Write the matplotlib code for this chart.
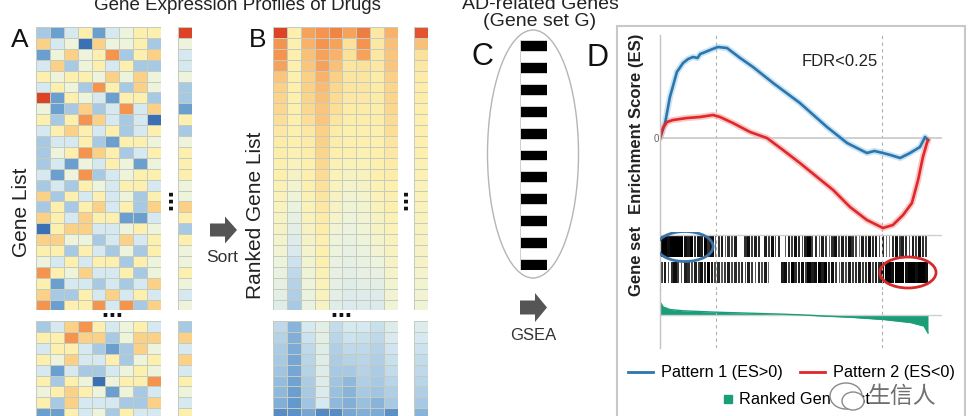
import numpy as np
import matplotlib
matplotlib.use('Agg')
import matplotlib.pyplot as plt
from matplotlib.colors import LinearSegmentedColormap, ListedColormap
from matplotlib.patches import Ellipse, FancyArrow
from matplotlib.lines import Line2D

plt.rcParams['font.family'] = ['Liberation Sans', 'DejaVu Sans']

# ---------------- data ----------------
heat_colors = ['#3b70b5', '#6a9fd0', '#a7c9e4', '#d6e8f0', '#eef4dc',
               '#fdf1b0', '#fbd288', '#f5964f', '#dd4427']

# Panel A: raw expression levels (0 = strongly down ... 8 = strongly up)
A_top = ["213513455", "634064452", "146457256", "362453522", "545546464",
         "354275264", "815431552", "412623736", "525763230", "356535235",
         "233521554", "245765235", "231435414", "314723455", "232543553",
         "625353425", "252563526", "653655113", "056633454", "664423635",
         "552532425", "435355254", "754633524", "513323236", "622536353",
         "715573726"]
A_top_side = "84334221524555446525445434"
A_bottom = ["236753453", "557662466", "355321264", "546335245", "313223454",
            "525404557", "456541423", "526333226", "115342533"]
A_bottom_side = "263635435"

# Panel B: ranked expression levels
B_top = [
    [8.0, 5.0, 6.8, 7.0, 7.2, 6.8, 7.3, 5.3, 6.5],
    [7.0, 5.0, 6.5, 7.0, 6.8, 5.5, 7.0, 5.3, 6.3],
    [7.0, 5.0, 6.3, 6.8, 6.5, 5.5, 6.8, 5.3, 6.2],
    [6.8, 5.0, 6.2, 6.8, 6.3, 5.4, 5.5, 5.3, 6.2],
    [6.2, 5.0, 6.0, 6.5, 6.0, 5.4, 5.4, 5.2, 6.0],
    [6.0, 5.0, 6.0, 6.4, 5.8, 5.4, 5.4, 5.2, 5.9],
    [5.9, 5.0, 5.9, 6.3, 5.7, 5.3, 5.3, 5.2, 5.9],
    [5.8, 5.0, 5.8, 6.2, 5.6, 5.2, 5.2, 5.1, 5.8],
    [5.6, 5.0, 5.6, 6.2, 5.4, 5.1, 5.1, 5.1, 5.7],
    [5.3, 5.0, 5.3, 6.0, 5.2, 5.0, 5.0, 5.0, 5.6],
    [5.2, 5.0, 5.2, 6.0, 5.1, 5.0, 5.0, 5.0, 5.4],
    [5.1, 4.9, 5.1, 5.9, 5.0, 5.0, 4.9, 5.0, 5.3],
    [5.0, 4.7, 5.0, 5.8, 4.9, 4.8, 4.8, 5.0, 5.2],
    [5.0, 4.5, 5.0, 5.7, 4.8, 4.6, 4.7, 5.0, 5.1],
    [4.9, 4.3, 5.0, 5.5, 4.7, 4.4, 4.5, 4.9, 5.0],
    [4.8, 4.1, 4.9, 5.4, 4.6, 4.2, 4.4, 4.8, 5.0],
    [4.7, 3.9, 4.8, 5.3, 4.5, 4.1, 4.3, 4.7, 5.0],
    [4.6, 3.7, 4.7, 5.2, 4.4, 4.0, 4.2, 4.6, 4.9],
    [4.5, 3.5, 4.6, 5.1, 4.2, 3.9, 4.1, 4.5, 4.8],
    [4.4, 3.3, 4.5, 5.0, 4.0, 3.8, 4.0, 4.4, 4.7],
    [4.2, 3.1, 4.4, 5.0, 3.9, 3.7, 3.9, 4.2, 4.6],
    [4.0, 2.8, 4.3, 5.0, 3.8, 3.6, 3.8, 4.0, 4.5],
    [3.8, 2.5, 4.1, 4.9, 3.7, 3.5, 3.7, 3.7, 4.4],
    [3.6, 2.3, 4.0, 4.8, 3.6, 3.4, 3.5, 3.5, 4.3],
    [3.5, 2.2, 3.9, 4.7, 3.5, 3.3, 3.3, 3.3, 4.2],
    [3.4, 2.0, 3.8, 4.6, 3.4, 3.2, 3.2, 3.2, 4.1],
]
B_top_side = [7.8, 6.3, 5.5, 5.3, 5.2, 5.1, 5.1, 5.0, 5.0, 5.0, 5.0, 5.0, 4.9,
              4.9, 4.8, 4.8, 4.7, 4.7, 4.6, 4.6, 4.5, 4.5, 4.4, 4.3, 4.2, 4.1]
B_bottom = [
    [2.5, 1.5, 3.0, 3.5, 2.6, 3.0, 3.0, 2.7, 3.3],
    [2.3, 1.4, 2.8, 3.5, 2.4, 2.8, 2.7, 2.5, 3.1],
    [2.1, 1.3, 2.5, 3.4, 2.2, 2.5, 2.5, 2.3, 2.9],
    [2.0, 1.2, 2.4, 3.4, 2.1, 2.3, 2.4, 2.2, 2.7],
    [1.9, 1.2, 2.3, 3.3, 2.0, 2.0, 2.3, 2.1, 2.6],
    [1.7, 1.1, 2.1, 3.3, 1.9, 1.6, 2.2, 2.0, 2.4],
    [1.6, 1.0, 2.0, 3.2, 1.8, 1.5, 2.0, 1.9, 2.2],
    [1.4, 0.9, 1.9, 3.0, 1.6, 1.4, 1.8, 1.5, 2.0],
    [0.6, 0.7, 1.2, 0.5, 0.6, 1.2, 1.4, 1.3, 0.7],
]
B_bottom_side = [3.3, 3.0, 2.8, 2.6, 2.5, 2.4, 2.2, 2.0, 1.5]

# Panel C: gene set G membership
gene_set_G = [1, 0, 1, 0, 1, 0, 1, 0, 1, 0, 1, 0, 1, 0, 1, 0, 1, 0, 1, 0, 1]

# Panel D: running enrichment scores (rank position in % of list)
blue_x = [0, 1.9, 3.7, 6.3, 8.6, 10.5, 12.3, 14.0, 15.0, 16.0, 18.7, 21.6, 25.0,
          29.9, 34.7, 42.2, 52.2, 62.3, 69.8, 77.2, 80.0, 83.2, 86.0, 89.6,
          93.3, 97.0, 98.9, 100]
blue_es = [0, 0.15, 0.41, 0.66, 0.75, 0.79, 0.81, 0.80, 0.84, 0.85, 0.88, 0.91,
           0.90, 0.80, 0.71, 0.55, 0.35, 0.11, -0.05, -0.15, -0.13, -0.15,
           -0.17, -0.20, -0.15, -0.09, 0.01, -0.02]
red_x = [0, 1.1, 2.6, 4.9, 10.1, 14.9, 19.8, 22.4, 27.2, 33.6, 39.9, 45.9, 52.2,
         58.6, 64.6, 70.9, 77.2, 83.2, 86.9, 90.7, 94.0, 96.3, 98.1, 99.6, 100]
red_es = [0, 0.10, 0.16, 0.18, 0.20, 0.21, 0.23, 0.21, 0.15, 0.06, 0.0, -0.12,
          -0.25, -0.39, -0.52, -0.69, -0.82, -0.90, -0.87, -0.77, -0.65, -0.42,
          -0.19, -0.05, -0.02]

# Gene-set hit density along the ranked list (0 = none ... 9 = dense)
hits_pattern1 = ("99899998" "79687968" "2" "573647" "1" "0" "68576" "1" "75846"
                 "0" "3" "758647956375" "2" "68475864" "1" "7586746" "21"
                 "68576475865")
hits_pattern2 = ("5746853764" "758697" "4635746" "5" "647536" "4721" "0" "2"
                 "7859678597" "8979685" "364756" "7568476" "89989998998998")

# Ranked gene list metric
rank_x = [0, 1.2, 3.7, 8.7, 21, 33.6, 46, 52, 56, 60, 71, 83.5, 93.5, 98.5, 100]
rank_val = [13, 8, 5.5, 4.2, 2.8, 1.8, 0.8, 0.2, -0.3, -0.9, -2.2, -4.5, -7.5,
            -11, -18]

leading_edges = [21, 83]

BLUE = '#2b76ad'
RED = '#e0282a'
GREEN = '#1a9e78'

# ---------------- figure ----------------
W, H = 970, 416
fig = plt.figure(figsize=(W / 100, H / 100), dpi=100)
fig.patch.set_facecolor('white')


def rect(x0, y0, x1, y1):
    return [x0 / W, 1 - y1 / H, (x1 - x0) / W, (y1 - y0) / H]


ov = fig.add_axes([0, 0, 1, 1])
ov.set_xlim(0, W)
ov.set_ylim(H, 0)
ov.axis('off')

cmap = LinearSegmentedColormap.from_list('expr', heat_colors)


def to_mat(rows):
    if isinstance(rows, str):
        return np.array([[int(c)] for c in rows], dtype=float)
    if isinstance(rows[0], str):
        return np.array([[int(c) for c in r] for r in rows], dtype=float)
    arr = np.array(rows, dtype=float)
    if arr.ndim == 1:
        arr = arr[:, None]
    return arr


def heat(r, rows):
    m = to_mat(rows)
    ax = fig.add_axes(r)
    ax.pcolormesh(m, cmap=cmap, vmin=0, vmax=8, edgecolors='#c5ccbf',
                  linewidth=0.6)
    ax.set_xlim(0, m.shape[1])
    ax.set_ylim(m.shape[0], 0)
    ax.axis('off')
    return ax


RH = 10.9
top0, top1 = 27, 27 + 26 * RH
bot0, bot1 = 321, 321 + 9 * RH

heat(rect(36, top0, 161, top1), A_top)
heat(rect(178, top0, 192, top1), A_top_side)
heat(rect(36, bot0, 161, bot1), A_bottom)
heat(rect(178, bot0, 192, bot1), A_bottom_side)
heat(rect(273, top0, 398, top1), B_top)
heat(rect(414, top0, 428, top1), B_top_side)
heat(rect(273, bot0, 398, bot1), B_bottom)
heat(rect(414, bot0, 428, bot1), B_bottom_side)

# Panel C gene set column
axc = fig.add_axes(rect(520, 40, 547, 40 + 21 * 10.95))
gs = np.array(gene_set_G, dtype=float)[:, None]
axc.pcolormesh(gs, cmap=ListedColormap(['white', 'black']), vmin=0, vmax=1,
               edgecolors='#d0d0d0', linewidth=0.5)
axc.set_xlim(0, 1)
axc.set_ylim(len(gene_set_G), 0)
axc.axis('off')

# ---------------- overlay texts / decorations ----------------
ov.text(237, 10, 'Gene Expression Profiles of Drugs', ha='center',
        va='baseline', fontsize=13.5, color='#222')
ov.text(540, 9, 'AD-related Genes', ha='center', va='baseline',
        fontsize=14, color='#222')
ov.text(540, 22, '(Gene set G)', ha='center', va='center', fontsize=14,
        color='#222')

ov.text(11, 47, 'A', fontsize=19, va='baseline', color='#111')
ov.text(249, 47, 'B', fontsize=19, va='baseline', color='#111')
ov.text(472, 65, 'C', fontsize=22, va='baseline', color='#111')
ov.text(587, 66, 'D', fontsize=22, va='baseline', color='#111')

ov.text(22, 212, 'Gene List', rotation=90, ha='center', va='center',
        fontsize=15, color='#222')
ov.text(256, 215, 'Ranked Gene List', rotation=90, ha='center', va='center',
        fontsize=15, color='#222')

for (x, y, rot) in [(170, 200, 90), (112, 315, 0), (405, 200, 90),
                    (341, 315, 0)]:
    ov.text(x, y, '\u22ef', rotation=rot, ha='center', va='center',
            fontsize=15, fontweight='bold', family='DejaVu Sans', color='#111')

ov.add_patch(FancyArrow(210, 230, 27, 0, width=13, head_width=27,
                        head_length=12, length_includes_head=True,
                        color='#555555', lw=0))
ov.text(222, 257, 'Sort', ha='center', va='center', fontsize=12.5,
        color='#333')

ov.add_patch(Ellipse((533, 154), 91, 248, fill=False, edgecolor='#b5b5b5',
                     lw=1))
ov.add_patch(FancyArrow(520, 307.5, 27, 0, width=14, head_width=29,
                        head_length=12, length_includes_head=True,
                        color='#555555', lw=0))
ov.text(533, 335, 'GSEA', ha='center', va='center', fontsize=12,
        color='#333')

# Frame of panel D
ov.plot([617, 617, 965, 965], [425, 26, 26, 425], color='#c8c8c8', lw=1.5,
        solid_joinstyle='miter')

# ---------------- Panel D axes ----------------
XMAX = (942 - 660) / 2.68


def d_axes(r):
    ax = fig.add_axes(r)
    ax.set_facecolor('none')
    for s in ['top', 'right', 'bottom']:
        ax.spines[s].set_visible(False)
    ax.spines['left'].set_color('#c4c4c4')
    ax.spines['left'].set_linewidth(1)
    ax.set_xlim(0, XMAX)
    ax.set_xticks([])
    for xv in leading_edges:
        ax.axvline(xv, color='#b0b0b0', lw=0.8, ls=(0, (3, 3)))
    return ax


axe = d_axes(rect(660, 35, 942, 232))
axe.set_ylim(-0.94, 1.03)
axe.axhline(0, color='#c8c8c8', lw=1.2)
axe.plot(blue_x, blue_es, color='#a9d3ef', lw=4.5, alpha=0.6,
         solid_capstyle='round')
axe.plot(red_x, red_es, color='#f4a5a5', lw=4.5, alpha=0.6,
         solid_capstyle='round')
axe.plot(blue_x, blue_es, color=BLUE, lw=1.9)
axe.plot(red_x, red_es, color=RED, lw=1.9)
axe.set_yticks([0])
axe.set_yticklabels(['0'], fontsize=7, color='#666')
axe.tick_params(axis='y', length=0, pad=1)
axe.text(67.2, 0.76, 'FDR<0.25', ha='center', va='center', fontsize=12,
         color='#222')
axe.set_ylabel('Enrichment Score (ES)', fontsize=12, fontweight='bold',
               color='#222')
axe.yaxis.set_label_coords((644 - 660) / 282, (232 - 124) / 197)

axb = d_axes(rect(660, 232, 942, 290))
axb.set_ylim(290, 232)
axb.set_yticks([])
axb.axhline(235, color='#cfcfcf', lw=1)
bar_cmap = LinearSegmentedColormap.from_list('bar', ['#8a8a8a', '#000000'])
for hits, (y0, y1) in [(hits_pattern1, (235, 257)), (hits_pattern2, (262, 283))]:
    v = np.array([int(c) for c in hits], dtype=float)
    bw = 100.0 / len(v)
    centers = (np.arange(len(v)) + 0.5) * bw
    widths = bw * np.clip(v / 8.0, 0, 1) * 0.95
    cols = bar_cmap(np.clip(v / 9.0, 0, 1))
    axb.bar(centers, y1 - y0, width=widths, bottom=y0, color=cols, lw=0)
axb.add_patch(Ellipse((9.3, 246.5), 21, 30, fill=False, edgecolor='#3a74a8',
                      lw=2, zorder=5))
axb.add_patch(Ellipse((92.5, 272.5), 21, 31, fill=False, edgecolor='#d62a2a',
                      lw=2, zorder=5))
axb.set_ylabel('Gene set', fontsize=12, fontweight='bold', color='#222')
axb.yaxis.set_label_coords((644 - 660) / 282, (290 - 261) / 58)

axr = d_axes(rect(660, 290, 942, 348))
axr.set_ylim(-33, 25)
axr.set_yticks([])
axr.axhline(0, color='#cfcfcf', lw=1)
axr.fill_between(rank_x, 0, rank_val, color=GREEN, lw=0)
axr.plot(rank_x, rank_val, color=GREEN, lw=1)

# ---------------- legends ----------------
h1 = [Line2D([], [], color=BLUE, lw=2, label='Pattern 1 (ES>0)'),
      Line2D([], [], color=RED, lw=2, label='Pattern 2 (ES<0)')]
fig.legend(handles=h1, loc='center', bbox_to_anchor=(791.5 / W, 1 - 373 / H),
           ncol=2, frameon=False, fontsize=11.7, handlelength=1.5,
           handletextpad=0.5, columnspacing=1.1, borderpad=0,
           borderaxespad=0)
h2 = [Line2D([], [], color=GREEN, marker='s', ls='none', markersize=6,
             label='Ranked Gene List')]
fig.legend(handles=h2, loc='center', bbox_to_anchor=(796 / W, 1 - 400 / H),
           frameon=False, fontsize=11.7, handlelength=0.7, handletextpad=0.35,
           borderpad=0, borderaxespad=0)

# ---------------- watermark ----------------
wm = fig.add_axes([0, 0, 1, 1], zorder=10)
wm.set_xlim(0, W)
wm.set_ylim(H, 0)
wm.axis('off')
wm.add_patch(Ellipse((846, 396), 32, 26, facecolor='white',
                     edgecolor='#8a8a8a', lw=1))
wm.add_patch(Ellipse((853, 401), 22, 18, facecolor='white',
                     edgecolor='#8a8a8a', lw=1))
wm.text(868, 396, '生信人', ha='left', va='center', fontsize=16.5,
        color='#707070', family=['Noto Sans CJK SC', 'DejaVu Sans'])

fig.savefig('out.png', dpi=100, facecolor='white')
